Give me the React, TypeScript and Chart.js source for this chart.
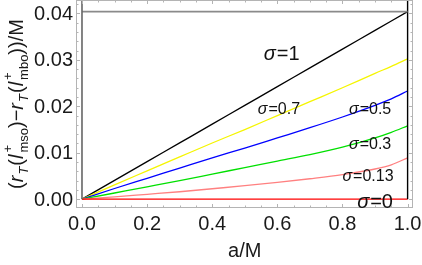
import React, { useEffect, useRef } from "react";
import { Chart, registerables } from "chart.js";

Chart.register(...registerables);

const aValues = [0, 0.1, 0.2, 0.3, 0.4, 0.5, 0.6, 0.7, 0.8, 0.9, 0.95, 1.0];
const sigma1 = [0, 0.00404, 0.00808, 0.01212, 0.01616, 0.0202, 0.02424, 0.02828, 0.03232, 0.03636, 0.03838, 0.0404];
const sigma07 = [0, 0.0031, 0.0061, 0.0091, 0.0121, 0.015, 0.018, 0.021, 0.024, 0.0271, 0.0286, 0.0302];
const sigma05 = [0, 0.0023, 0.0045, 0.0067, 0.0089, 0.011, 0.0132, 0.0154, 0.0177, 0.0202, 0.0216, 0.0233];
const sigma03 = [0, 0.00133, 0.00266, 0.004, 0.0054, 0.0068, 0.0082, 0.0096, 0.0112, 0.0132, 0.0144, 0.0158];
const sigma013 = [0, 0.0005, 0.00105, 0.0016, 0.00225, 0.0029, 0.0036, 0.0044, 0.0053, 0.0065, 0.0074, 0.0089];
const sigma0 = [0, 0, 0, 0, 0, 0, 0, 0, 0, 0, 0, 0];

const xTicks = [0, 0.2, 0.4, 0.6, 0.8, 1.0];
const yTicks = [0, 0.01, 0.02, 0.03, 0.04];

const curveLabels = [
  { text: "1", x: 0.558, y: 0.0311, size: 20 },
  { text: "0.7", x: 0.54, y: 0.0192, size: 16 },
  { text: "0.5", x: 0.82, y: 0.0192, size: 16 },
  { text: "0.3", x: 0.82, y: 0.0117, size: 16 },
  { text: "0.13", x: 0.80, y: 0.0048, size: 16 },
  { text: "0", x: 0.845, y: -0.0007, size: 20 },
];

const FONT = "'Liberation Sans', Arial, sans-serif";

const pts = (ys: number[]) => aValues.map((a, i) => ({ x: a, y: ys[i] }));

const framePlugin = {
  id: "mmaFrame",
  afterDatasetsDraw(chart: any) {
    const { ctx, chartArea: ca, scales } = chart;
    const xs = scales.x;
    const ys = scales.y;
    ctx.save();
    ctx.strokeStyle = "#b4b4b4";
    ctx.lineWidth = 1;
    ctx.strokeRect(ca.left + 0.5, ca.top + 0.5, ca.right - ca.left - 1, ca.bottom - ca.top - 1);
    for (let i = 0; i <= 20; i++) {
      const v = i * 0.05;
      const px = Math.round(xs.getPixelForValue(v)) + 0.5;
      const len = i % 4 === 0 ? 4 : 2.5;
      ctx.beginPath();
      ctx.moveTo(px, ca.bottom);
      ctx.lineTo(px, ca.bottom - len);
      ctx.moveTo(px, ca.top);
      ctx.lineTo(px, ca.top + len);
      ctx.stroke();
    }
    for (let i = 0; i <= 21; i++) {
      const v = i * 0.002;
      const py = Math.round(ys.getPixelForValue(v)) + 0.5;
      const len = i % 5 === 0 ? 4 : 2.5;
      ctx.beginPath();
      ctx.moveTo(ca.left, py);
      ctx.lineTo(ca.left + len, py);
      ctx.moveTo(ca.right, py);
      ctx.lineTo(ca.right - len, py);
      ctx.stroke();
    }
    ctx.fillStyle = "#1a1a1a";
    ctx.font = `20px ${FONT}`;
    ctx.textAlign = "center";
    ctx.textBaseline = "middle";
    xTicks.forEach((v) => {
      ctx.fillText(v.toFixed(1), xs.getPixelForValue(v), ca.bottom + 16);
    });
    ctx.textAlign = "right";
    yTicks.forEach((v) => {
      ctx.fillText(v.toFixed(2), ca.left - 3, ys.getPixelForValue(v) + 1);
    });
    ctx.textAlign = "center";
    ctx.fillText("a/M", (xs.getPixelForValue(0) + xs.getPixelForValue(1)) / 2, 251);

    const main = 20;
    const small = 13;
    type Seg = { t: string; it?: boolean; sub?: boolean; stack?: [string, string] };
    const segs: Seg[] = [
      { t: "(" },
      { t: "r", it: true },
      { t: "T", it: true, sub: true },
      { t: "(" },
      { t: "l", it: true },
      { t: "", stack: ["+", "mso"] },
      { t: ")" },
      { t: "\u2212" },
      { t: "r", it: true },
      { t: "T", it: true, sub: true },
      { t: "(" },
      { t: "l", it: true },
      { t: "", stack: ["+", "mbo"] },
      { t: "))/M" },
    ];
    const fontFor = (s: Seg, size: number) => `${s.it ? "italic " : ""}${size}px ${FONT}`;
    const widthOf = (s: Seg) => {
      if (s.stack) {
        ctx.font = `${small}px ${FONT}`;
        return Math.max(ctx.measureText(s.stack[0]).width, ctx.measureText(s.stack[1]).width) + 1;
      }
      ctx.font = fontFor(s, s.sub ? small : main);
      return ctx.measureText(s.t).width + (s.it ? 1 : 0);
    };
    const total = segs.reduce((acc, s) => acc + widthOf(s), 0);
    ctx.save();
    ctx.translate(16, 104);
    ctx.rotate(-Math.PI / 2);
    let cx = -total / 2;
    ctx.textAlign = "left";
    ctx.textBaseline = "alphabetic";
    const base = 7;
    segs.forEach((s) => {
      const w = widthOf(s);
      if (s.stack) {
        ctx.font = `${small}px ${FONT}`;
        ctx.fillText(s.stack[0], cx + 1, base - 11);
        ctx.fillText(s.stack[1], cx + 1, base + 5);
      } else if (s.sub) {
        ctx.font = fontFor(s, small);
        ctx.fillText(s.t, cx, base + 5);
      } else {
        ctx.font = fontFor(s, main);
        ctx.fillText(s.t, cx, base);
      }
      cx += w;
    });
    ctx.restore();

    ctx.textBaseline = "middle";
    ctx.textAlign = "left";
    curveLabels.forEach((l) => {
      const px = xs.getPixelForValue(l.x);
      const py = ys.getPixelForValue(l.y);
      ctx.font = `italic ${l.size}px ${FONT}`;
      ctx.fillStyle = "#111";
      ctx.fillText("\u03c3", px, py);
      const w = ctx.measureText("\u03c3").width;
      ctx.font = `${l.size}px ${FONT}`;
      ctx.fillText("=" + l.text, px + w + 1, py);
    });
    ctx.restore();
  },
};

export default function App() {
  const ref = useRef<HTMLCanvasElement | null>(null);
  useEffect(() => {
    document.body.style.margin = "0";
    const canvas = ref.current!;
    const line = (label: string, ys: number[], color: string, width = 1.3) => ({
      label,
      data: pts(ys),
      borderColor: color,
      backgroundColor: color,
      borderWidth: width,
      pointRadius: 0,
      tension: 0.4,
      cubicInterpolationMode: "monotone" as const,
      fill: false,
    });
    const chart = new Chart(canvas, {
      type: "line",
      data: {
        datasets: [
          { label: "axis", data: [{ x: 0, y: 0 }, { x: 0, y: 0.05 }], borderColor: "#666", borderWidth: 1.6, pointRadius: 0 },
          { label: "top", data: [{ x: 0, y: 0.0404 }, { x: 1, y: 0.0404 }], borderColor: "#8a8a8a", borderWidth: 1.6, pointRadius: 0 },
          { label: "right", data: [{ x: 1, y: 0 }, { x: 1, y: 0.05 }], borderColor: "#000", borderWidth: 1.4, pointRadius: 0 },
          line("σ=0", sigma0, "#ff0000"),
          line("σ=0.13", sigma013, "#ff8080"),
          line("σ=0.3", sigma03, "#00e000"),
          line("σ=0.5", sigma05, "#0000ff"),
          line("σ=0.7", sigma07, "#f5f500"),
          line("σ=1", sigma1, "#000000"),
        ] as any,
      },
      options: {
        animation: false,
        responsive: false,
        maintainAspectRatio: false,
        layout: { padding: { left: 76, right: 9, top: 0, bottom: 57 } },
        plugins: { legend: { display: false }, tooltip: { enabled: false } },
        scales: {
          x: { type: "linear", min: -0.0184, max: 1.0166, display: false },
          y: { type: "linear", min: -0.0019, max: 0.0429, display: false },
        },
      },
      plugins: [framePlugin],
    });
    return () => chart.destroy();
  }, []);
  return (
    <div style={{ position: "fixed", left: 0, top: 0, width: 422, height: 265, background: "#fff" }}>
      <canvas ref={ref} width={422} height={265} style={{ width: 422, height: 265 }} />
    </div>
  );
}
